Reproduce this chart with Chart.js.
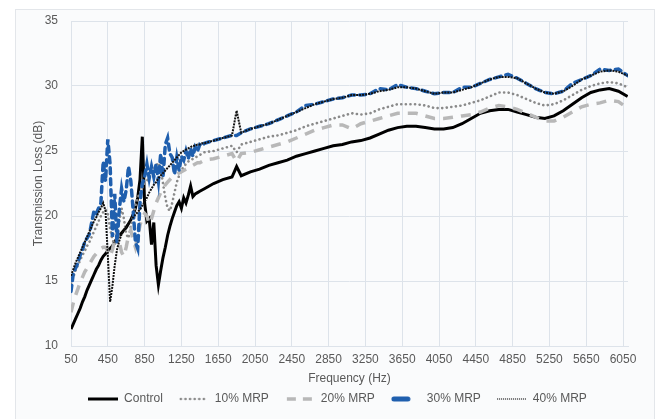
<!DOCTYPE html>
<html>
<head>
<meta charset="utf-8">
<script src="https://cdn.jsdelivr.net/npm/chart.js"></script>
<style>
  body { margin: 0; background: #fff; }
  .panel { position: absolute; left: 15px; top: 9px; width: 638px; height: 420px; border: 1px solid #e3e6ea; background: #fafbfc; }
  .wrap { position: absolute; left: 0; top: 0; width: 657px; height: 419px; }
</style>
</head>
<body>
<div class="panel"></div>
<div class="wrap"><canvas id="tl-chart"></canvas></div>
<script>
// frequency points (Hz): 25 Hz steps up to 1500, then 100 Hz
const freq = [50,75,100,125,150,175,200,225,250,275,300,325,350,375,400,425,450,475,500,525,550,575,600,625,650,675,700,725,750,775,800,825,850,875,900,925,950,975,1000,1025,1050,1075,1100,1125,1150,1175,1200,1225,1250,1275,1300,1325,1350,1375,1400,1425,1450,1475,1500,
  1600,1700,1800,1850,1900,2000,2100,2200,2300,2400,2500,2600,2700,2800,2900,3000,3100,3200,3300,3400,3500,3600,3700,3800,3900,4000,4100,4200,4300,4400,4500,4600,4700,4800,4900,5000,5100,5200,5300,5400,5500,5600,5700,5800,5900,6000,6100];

const control = [11.3,11.7,12.1,12.5,12.9,13.4,13.8,14.3,14.7,15.1,15.5,15.9,16.2,16.6,16.9,17.1,17.3,17.5,17.7,18.0,18.3,18.5,18.7,18.9,19.1,19.4,19.7,20.1,20.6,21.4,22.8,26.1,21.0,19.6,19.8,17.8,19.5,16.2,14.7,15.8,16.8,17.6,18.5,19.2,19.8,20.3,20.8,21.1,20.6,21.4,21.0,21.6,22.3,21.5,21.7,21.8,21.9,22.0,22.1,
  22.5,22.8,23.0,23.8,23.1,23.4,23.6,23.9,24.1,24.3,24.6,24.8,25.0,25.2,25.4,25.5,25.7,25.8,26.0,26.3,26.6,26.8,26.9,26.9,26.8,26.7,26.7,26.8,27.1,27.5,27.9,28.1,28.2,28.2,28.0,27.8,27.6,27.5,27.7,28.1,28.6,29.1,29.5,29.7,29.8,29.6,29.2];

const mrp10 = [14.8,15.3,15.8,16.2,16.6,17.0,17.3,17.7,18.0,18.4,18.8,19.2,19.6,20.0,20.3,20.5,20.2,19.0,18.2,17.8,18.4,19.6,20.6,19.8,18.6,18.3,19.2,20.0,20.8,21.4,21.8,22.2,22.5,22.7,23.0,23.3,23.6,23.9,24.1,23.6,22.5,21.4,20.6,20.4,21.0,21.8,22.6,23.1,23.5,23.8,24.0,24.2,24.3,24.4,24.5,24.6,24.7,24.8,24.9,
  25.0,25.2,25.4,24.9,25.5,25.7,25.9,26.1,26.2,26.4,26.6,26.9,27.1,27.3,27.5,27.7,27.9,27.8,27.9,28.2,28.4,28.6,28.6,28.6,28.5,28.3,28.3,28.4,28.5,28.7,28.9,29.2,29.5,29.5,29.3,29.0,28.7,28.5,28.6,28.9,29.3,29.7,30.0,30.2,30.3,30.2,29.9];

const mrp20 = [12.6,13.3,13.9,14.4,14.9,15.3,15.7,16.0,16.3,16.6,16.9,17.1,17.3,17.5,17.6,17.6,17.3,16.9,17.4,18.2,18.8,18.0,17.2,16.9,17.6,18.5,18.9,18.2,17.6,18.4,19.3,19.9,20.2,20.0,19.4,19.8,20.4,21.0,21.4,21.8,22.1,22.4,22.6,22.8,23.0,23.1,23.2,23.3,23.4,23.5,23.6,23.7,23.8,23.9,24.0,24.1,24.1,24.2,24.3,
  24.4,24.6,24.8,24.2,24.8,24.9,25.1,25.3,25.5,25.7,26.0,26.3,26.6,26.8,27.0,27.0,26.7,27.1,27.3,27.5,27.7,27.9,27.9,27.9,27.7,27.5,27.5,27.6,27.7,27.8,28.0,28.3,28.5,28.4,28.2,27.9,27.6,27.3,27.3,27.6,28.0,28.4,28.6,28.7,28.9,28.8,28.3];

const mrp30 = [14.2,15.6,16.0,16.4,17.0,17.4,18.0,18.3,18.6,19.5,20.4,20.2,20.6,21.0,24.2,22.7,25.9,24.0,18.4,21.7,18.0,20.5,22.1,21.1,22.0,23.8,22.7,20.5,18.0,17.5,21.0,22.5,23.0,24.0,22.9,23.8,23.0,24.0,22.7,24.8,23.0,25.5,26.0,24.8,24.5,23.2,24.5,23.5,24.6,24.3,25.0,24.4,25.2,24.6,25.3,25.0,25.5,25.4,25.6,
  25.8,26.0,26.2,26.2,26.4,26.7,26.9,27.1,27.4,27.7,28.0,28.5,28.6,28.8,29.0,29.1,29.3,29.3,29.4,29.8,29.7,30.1,29.9,29.8,29.6,29.4,29.5,29.5,29.9,29.9,30.2,30.5,30.7,30.9,30.6,30.2,29.8,29.5,29.4,29.6,30.2,30.5,30.8,31.3,31.2,31.3,30.8];

const mrp40 = [15.4,15.9,16.4,16.8,17.2,17.6,18.0,18.4,18.8,19.2,19.6,19.9,20.3,20.6,21.0,20.4,17.0,13.4,14.6,16.2,17.4,18.1,18.6,18.9,19.2,19.4,19.7,19.9,20.1,20.3,20.5,20.8,21.1,21.4,21.8,22.1,22.4,22.6,22.9,23.1,23.3,23.5,23.7,23.9,24.1,24.3,24.5,24.7,24.9,25.0,25.1,25.2,25.3,25.4,25.4,25.5,25.5,25.6,25.6,
  25.8,26.0,26.2,28.1,26.4,26.7,26.9,27.1,27.4,27.7,28.0,28.3,28.6,28.8,29.0,29.1,29.3,29.3,29.4,29.6,29.7,29.9,29.9,29.8,29.6,29.4,29.5,29.5,29.7,29.9,30.2,30.5,30.7,30.7,30.6,30.2,29.8,29.5,29.4,29.6,30.0,30.5,30.8,31.1,31.2,31.1,30.8];

const xTicks = [50,450,850,1250,1650,2050,2450,2850,3250,3650,4050,4450,4850,5250,5650,6050];

const pts = vals => freq.map((f, i) => ({x: f, y: vals[i]}));

Chart.defaults.font.family = "'Liberation Sans', Arial, sans-serif";
Chart.defaults.font.size = 12;
Chart.defaults.color = '#595959';

// small legend swatches: x0..x1 span, colour, width, dash, cap
function swatch(x0, x1, color, width, dash, cap) {
  const c = document.createElement('canvas');
  c.width = 30; c.height = 10;
  const ctx = c.getContext('2d');
  ctx.strokeStyle = color;
  ctx.lineWidth = width;
  ctx.lineCap = cap || 'butt';
  ctx.setLineDash(dash || []);
  ctx.beginPath();
  ctx.moveTo(x0, 5);
  ctx.lineTo(x1, 5);
  ctx.stroke();
  return c;
}

const data = {
  datasets: [{
    label: 'Control',
    data: pts(control),
    borderColor: '#000',
    borderWidth: 3,
    pointStyle: swatch(0, 30, '#000', 3),
    order: 5
  }, {
    label: '10% MRP',
    data: pts(mrp10),
    borderColor: '#8a8a8a',
    borderWidth: 2.6,
    borderDash: [0.1, 4.5],
    borderCapStyle: 'round',
    pointStyle: swatch(2, 28, '#8a8a8a', 2.6, [0.1, 4.5], 'round'),
    order: 4
  }, {
    label: '20% MRP',
    data: pts(mrp20),
    borderColor: '#b8b8b8',
    borderWidth: 3.5,
    borderDash: [10, 8],
    pointStyle: swatch(2, 30, '#b8b8b8', 3.5, [9, 7]),
    order: 3
  }, {
    label: '30% MRP',
    data: pts(mrp30),
    borderColor: '#1f5fae',
    borderWidth: 3.5,
    borderDash: [6, 5],
    borderCapStyle: 'round',
    pointStyle: swatch(3, 17, '#1f5fae', 5, [], 'round'),
    order: 2
  }, {
    label: '40% MRP',
    data: pts(mrp40),
    borderColor: '#111',
    borderWidth: 2,
    borderDash: [2, 1],
    pointStyle: swatch(0, 30, '#111', 1.2, [1, 1]),
    order: 1
  }]
};

const gridColor = '#dde3ea';

// nudge the legend row right a little
const legendShift = {
  id: 'legendShift',
  afterLayout: chart => { chart.legend.left += 8; chart.legend.right += 8; }
};

const config = {
  type: 'line',
  data: data,
  plugins: [legendShift],
  options: {
    responsive: true,
    maintainAspectRatio: false,
    animation: false,
    elements: { point: { radius: 0 }, line: { tension: 0 } },
    layout: {
      padding: { top: 21, bottom: 4, left: 31, right: 29 }
    },
    scales: {
      x: {
        type: 'linear',
        min: 50,
        max: 6104,
        afterBuildTicks: scale => { scale.ticks = xTicks.map(v => ({value: v})); },
        afterFit: scale => { scale.height = 31; },
        ticks: { autoSkip: false, maxRotation: 0, padding: 6, callback: v => v },
        grid: { color: gridColor, drawTicks: false },
        border: { color: gridColor },
        title: { display: true, text: 'Frequency (Hz)', padding: { top: 0, bottom: -9 } }
      },
      y: {
        min: 10,
        max: 35,
        afterFit: scale => { scale.width = 40; },
        ticks: { stepSize: 5, padding: 13 },
        grid: { color: gridColor, drawTicks: false },
        border: { display: false },
        title: { display: true, text: 'Transmission Loss (dB)', padding: 0 }
      }
    },
    plugins: {
      tooltip: { enabled: false },
      legend: {
        position: 'bottom',
        labels: {
          usePointStyle: true,
          pointStyleWidth: 30,
          padding: 16,
          sort: (a, b) => a.datasetIndex - b.datasetIndex
        }
      }
    }
  }
};

const tlChart = new Chart(document.getElementById('tl-chart'), config);
</script>
</body>
</html>
